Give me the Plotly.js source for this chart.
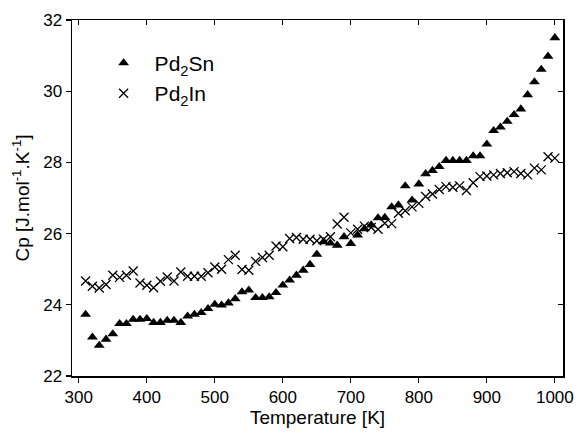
<!DOCTYPE html>
<html>
<head>
<meta charset="utf-8">
<script src="https://cdn.plot.ly/plotly-3.0.1.min.js"></script>
<style>html,body{margin:0;padding:0;background:#fff;}#chart{width:578px;height:437px;}</style>
</head>
<body>
<div id="chart"></div>
<script>
const temperature = [310,320,330,340,350,360,370,380,390,400,410,420,430,440,450,460,470,480,490,500,510,520,530,540,550,560,570,580,590,600,610,620,630,640,650,660,670,680,690,700,710,720,730,740,750,760,770,780,790,800,810,820,830,840,850,860,870,880,890,900,910,920,930,940,950,960,970,980,990,1000];
const cpPd2Sn = [23.73,23.09,22.86,23.03,23.18,23.47,23.47,23.59,23.59,23.61,23.50,23.50,23.56,23.56,23.50,23.68,23.73,23.78,23.89,24.01,23.99,24.05,24.17,24.36,24.41,24.20,24.20,24.22,24.34,24.55,24.69,24.83,24.97,25.13,25.42,25.77,25.73,25.67,25.91,25.72,25.96,26.13,26.24,26.44,26.45,26.75,26.80,27.34,26.94,27.39,27.68,27.77,27.88,28.05,28.05,28.05,28.05,28.18,28.18,28.51,28.89,28.99,29.15,29.34,29.50,29.90,30.26,30.61,30.98,31.50];
const cpPd2In = [24.67,24.52,24.47,24.57,24.83,24.77,24.83,24.95,24.61,24.55,24.48,24.66,24.78,24.67,24.92,24.80,24.80,24.80,24.90,25.06,25.00,25.27,25.39,24.99,24.97,25.22,25.33,25.39,25.65,25.63,25.86,25.89,25.84,25.84,25.80,25.84,25.91,26.27,26.46,26.02,26.12,26.21,26.17,26.12,26.29,26.28,26.57,26.64,26.75,26.85,27.04,27.11,27.24,27.32,27.30,27.34,27.21,27.43,27.60,27.62,27.65,27.69,27.71,27.74,27.69,27.65,27.84,27.79,28.16,28.12];
const seriesNames = ['Pd<sub>2</sub>Sn', 'Pd<sub>2</sub>In'];
const xTitle = 'Temperature [K]';
const yTitle = 'Cp [J.mol<sup>-1</sup>.K<sup>-1</sup>]';

const font = 'Liberation Sans, Arial, sans-serif';
const traces = [
  {x: temperature, y: cpPd2Sn, name: seriesNames[0], mode: 'markers', type: 'scatter',
   marker: {symbol: 'triangle-up', size: 9.5, color: '#000'}},
  {x: temperature, y: cpPd2In, name: seriesNames[1], mode: 'markers', type: 'scatter',
   marker: {symbol: 'x-thin-open', size: 9, color: '#000', line: {color: '#000', width: 1.3}}},
  {x: [], y: [], xaxis: 'x2', yaxis: 'y2', showlegend: false, hoverinfo: 'skip', type: 'scatter'}
];
const axisCommon = {showgrid: false, zeroline: false, linecolor: '#000', linewidth: 1.5,
  tickcolor: '#000', tickwidth: 1.2, ticklen: 5, tickfont: {family: font, size: 17, color: '#000'}};
const layout = {
  width: 578, height: 437,
  margin: {l: 72, r: 15, t: 20, b: 61},
  paper_bgcolor: '#fff', plot_bgcolor: '#fff',
  font: {family: font, color: '#000'},
  showlegend: true,
  legend: {x: 0.042, y: 0.936, xanchor: 'left', yanchor: 'top', bgcolor: 'rgba(0,0,0,0)',
    font: {family: font, size: 21, color: '#000'}, itemwidth: 52, tracegroupgap: 0},
  xaxis: Object.assign({}, axisCommon, {range: [290, 1012], dtick: 100, tick0: 300, ticks: 'outside',
    showline: true, mirror: true,
    title: {text: xTitle, font: {family: font, size: 19, color: '#000'}, standoff: 4}}),
  yaxis: Object.assign({}, axisCommon, {range: [22, 32], dtick: 2, ticks: 'outside',
    showline: true, mirror: true,
    title: {text: yTitle, font: {family: font, size: 19, color: '#000'}, standoff: 8}}),
  xaxis2: Object.assign({}, axisCommon, {overlaying: 'x', matches: 'x', side: 'top', anchor: 'y2',
    ticks: 'inside', showticklabels: false, showline: false, range: [290, 1012], dtick: 100, tick0: 300}),
  yaxis2: Object.assign({}, axisCommon, {overlaying: 'y', matches: 'y', side: 'right', anchor: 'x2',
    ticks: 'inside', showticklabels: false, showline: false, range: [22, 32], dtick: 2})
};
Plotly.newPlot('chart', traces, layout, {displayModeBar: false, staticPlot: true});
</script>
</body>
</html>
